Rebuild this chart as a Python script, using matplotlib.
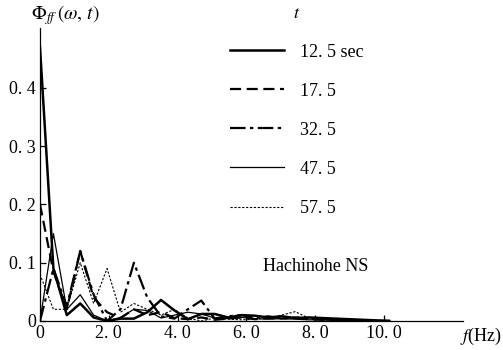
import matplotlib
matplotlib.use("Agg")
from matplotlib import pyplot as plt

plt.rcParams['font.family'] = ['Liberation Serif', 'DejaVu Serif']
plt.rcParams['mathtext.fontset'] = 'stix'

# frequency axis (Hz)
freq = [0.0, 0.39, 0.78, 1.17, 1.56, 1.95, 2.34, 2.73, 3.12, 3.52, 3.91, 4.30, 4.69,
        5.08, 5.47, 5.86, 6.25, 6.64, 7.03, 7.42, 7.81, 8.20, 8.59, 8.98, 9.38, 9.77, 10.16]

t125 = [0.47, 0.09, 0.01, 0.03, 0.006, 0.0, 0.004, 0.004, 0.015, 0.036, 0.018, 0.003, 0.012,
        0.012, 0.006, 0.01, 0.009, 0.006, 0.008, 0.005, 0.006, 0.005, 0.004, 0.003, 0.002, 0.001, 0.0]
t175 = [0.2, 0.085, 0.02, 0.12, 0.04, 0.015, 0.005, 0.02, 0.01, 0.015, 0.005, 0.003, 0.006,
        0.002, 0.004, 0.006, 0.003, 0.005, 0.004, 0.006, 0.003, 0.002, 0.002, 0.001, 0.001, 0.0, 0.0]
t325 = [0.0, 0.09, 0.025, 0.12, 0.045, 0.0, 0.02, 0.1, 0.04, 0.008, 0.004, 0.02, 0.035,
        0.004, 0.008, 0.01, 0.005, 0.008, 0.004, 0.006, 0.004, 0.003, 0.002, 0.002, 0.001, 0.0, 0.0]
t475 = [0.0, 0.15, 0.02, 0.045, 0.01, 0.0, 0.006, 0.02, 0.018, 0.005, 0.01, 0.015, 0.012,
        0.005, 0.004, 0.006, 0.004, 0.003, 0.004, 0.003, 0.002, 0.002, 0.001, 0.001, 0.0, 0.0, 0.0]
t575 = [0.08, 0.02, 0.02, 0.1, 0.03, 0.09, 0.015, 0.03, 0.02, 0.01, 0.02, 0.005, 0.0,
        0.005, 0.003, 0.002, 0.003, 0.005, 0.01, 0.016, 0.005, 0.002, 0.002, 0.001, 0.0, 0.0, 0.0]

labels = ['12. 5 sec', '17. 5', '32. 5', '47. 5', '57. 5']
xticks = [0, 2, 4, 6, 8, 10]
xticklabels = ['0', '2. 0', '4. 0', '6. 0', '8. 0', '10. 0']
yticks = [0, 0.1, 0.2, 0.3, 0.4]
yticklabels = ['0', '0. 1', '0. 2', '0. 3', '0. 4']

fig = plt.figure(figsize=(5.03, 3.5), dpi=100)
ax = fig.add_axes([0.0795, 0.083, 0.841, 0.837])

ax.plot(freq, t125, color='black', lw=1.8, label=labels[0])
ax.plot(freq, t175, color='black', lw=1.6, dashes=(5, 2.5), label=labels[1])
ax.plot(freq, t325, color='black', lw=1.6, dashes=(7, 2, 1.5, 2), label=labels[2])
ax.plot(freq, t475, color='black', lw=0.9, label=labels[3])
ax.plot(freq, t575, color='black', lw=0.8, dashes=(2, 1.5), label=labels[4])

ax.set_xlim(0, 12.3)
ax.set_ylim(0, 0.503)
ax.spines['top'].set_visible(False)
ax.spines['right'].set_visible(False)
ax.spines['left'].set_linewidth(0.9)
ax.spines['bottom'].set_linewidth(0.9)
ax.set_xticks(xticks)
ax.set_xticklabels(xticklabels)
ax.set_yticks(yticks)
ax.set_yticklabels(yticklabels)
ax.tick_params(direction='in', length=4, width=0.9, labelsize=13, pad=3)

leg = ax.legend(loc='upper left', bbox_to_anchor=(0.41, 1.135), frameon=False,
                fontsize=13, handlelength=3.0, labelspacing=1.22, handletextpad=0.9,
                title='$t$', title_fontsize=13)
leg._legend_box.align = 'center'

ax.text(0.527, 0.17, 'Hachinohe NS', transform=ax.transAxes, fontsize=13)
fig.text(0.062, 0.945, r'$\mathit{\Phi}_{ff}\,(\omega,\,t)$', fontsize=14)
fig.text(0.915, 0.025, '$f$(Hz)', fontsize=13)

fig.savefig('out.png', dpi=100)
